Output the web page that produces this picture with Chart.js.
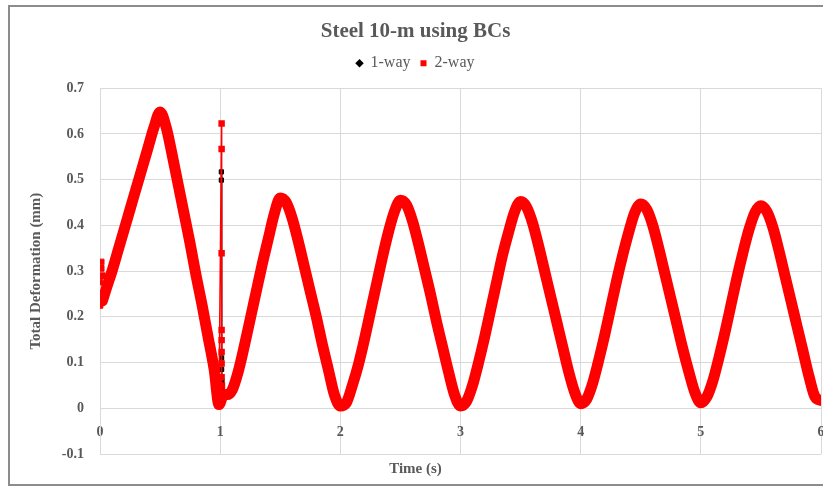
<!DOCTYPE html>
<html>
<head>
<meta charset="utf-8">
<script src="https://cdn.jsdelivr.net/npm/chart.js@4.4.1/dist/chart.umd.min.js"></script>
<style>
  html, body { margin: 0; padding: 0; background: #fff; overflow: hidden; }
  .frame {
    position: absolute; left: 8px; top: 5px;
    width: 826px; height: 477px;
    border: 2px solid #8c8c8c;
    background: #fff;
  }
</style>
</head>
<body>
<div class="frame"><canvas id="chart"></canvas></div>
<script>
// 2-way response: main band (time in s, total deformation in mm)
const time2 = [0.02, 0.05, 0.10, 0.15, 0.20, 0.25, 0.30, 0.35, 0.40, 0.45, 0.50, 0.55, 0.60, 0.65, 0.70, 0.75, 0.80, 0.85, 0.90, 0.95, 0.99,
  1.03, 1.06, 1.10, 1.15, 1.20, 1.25, 1.30, 1.35, 1.40, 1.45, 1.50, 1.55, 1.60, 1.65, 1.70, 1.75, 1.80, 1.85, 1.90, 1.95,
  2.00, 2.05, 2.10, 2.15, 2.20, 2.25, 2.30, 2.35, 2.40, 2.45, 2.50, 2.55, 2.60, 2.65, 2.70, 2.75, 2.80, 2.85, 2.90, 2.95,
  3.00, 3.05, 3.10, 3.15, 3.20, 3.25, 3.30, 3.35, 3.40, 3.45, 3.50, 3.55, 3.60, 3.65, 3.70, 3.75, 3.80, 3.85, 3.90, 3.95,
  4.00, 4.05, 4.10, 4.15, 4.20, 4.25, 4.30, 4.35, 4.40, 4.45, 4.50, 4.55, 4.60, 4.65, 4.70, 4.75, 4.80, 4.85, 4.90, 4.95,
  5.00, 5.05, 5.10, 5.15, 5.20, 5.25, 5.30, 5.35, 5.40, 5.45, 5.50, 5.55, 5.60, 5.65, 5.70, 5.75, 5.80, 5.85, 5.90, 5.95, 6.00];
const def2 = [0.235, 0.26, 0.30, 0.345, 0.39, 0.435, 0.48, 0.525, 0.57, 0.615, 0.648, 0.615, 0.555, 0.49, 0.425, 0.36, 0.29, 0.225, 0.155, 0.085, 0.008,
  0.03, 0.03, 0.04, 0.08, 0.135, 0.195, 0.255, 0.315, 0.37, 0.425, 0.46, 0.45, 0.415, 0.365, 0.31, 0.255, 0.20, 0.14, 0.085, 0.03,
  0.005, 0.012, 0.05, 0.095, 0.15, 0.21, 0.27, 0.33, 0.385, 0.43, 0.455, 0.445, 0.41, 0.36, 0.305, 0.25, 0.19, 0.135, 0.08, 0.03,
  0.005, 0.015, 0.05, 0.10, 0.155, 0.215, 0.275, 0.335, 0.385, 0.43, 0.452, 0.44, 0.405, 0.355, 0.30, 0.245, 0.19, 0.135, 0.08, 0.035,
  0.01, 0.02, 0.055, 0.105, 0.16, 0.22, 0.28, 0.335, 0.385, 0.428, 0.447, 0.435, 0.40, 0.35, 0.295, 0.24, 0.185, 0.13, 0.08, 0.035,
  0.012, 0.025, 0.06, 0.11, 0.165, 0.225, 0.285, 0.34, 0.39, 0.428, 0.443, 0.43, 0.395, 0.345, 0.29, 0.235, 0.18, 0.125, 0.07, 0.025, 0.017];

// 2-way start-up scatter near t = 0
const startT2 = [0.00, 0.01, 0.00, 0.01, 0.02];
const startV2 = [0.225, 0.32, 0.276, 0.306, 0.29];

// 2-way contact spike just after t = 1 s
const spikeT2 = [0.99, 1.012, 1.012, 1.012, 1.012, 1.012, 1.012, 1.012, 1.012, 1.015, 1.02, 1.03];
const spikeV2 = [0.008, 0.623, 0.567, 0.339, 0.171, 0.149, 0.123, 0.098, 0.068, 0.05, 0.03, 0.03];

// 1-way points that show from under the 2-way markers
const startT1 = [0.01, 0.01];
const startV1 = [0.243, 0.236];
const spikeT1 = [1.01, 1.01, 1.012, 1.012, 1.012, 1.015, 1.015, 1.015];
const spikeV1 = [0.517, 0.499, 0.15, 0.11, 0.085, 0.06, 0.04, 0.02];

const yTicks = [-0.1, 0, 0.1, 0.2, 0.3, 0.4, 0.5, 0.6, 0.7];

const pts = (xs, ys) => xs.map((x, i) => ({ x: x, y: ys[i] }));
const GREY = '#595959';
const SERIF = "'Liberation Serif', 'Times New Roman', serif";

const oneWay = pts(startT1, startV1).concat([{ x: 0.5, y: null }], pts(spikeT1, spikeV1));

// empty box between legend and plot, to push the plot down a little
const topSpacer = {
  id: 'topSpacer',
  beforeInit(chart) {
    Chart.layouts.addBox(chart, {
      position: 'top',
      weight: 500,
      fullSize: true,
      options: {},
      isHorizontal() { return true; },
      getPadding() { return { top: 0, left: 0, right: 0, bottom: 0 }; },
      update(maxWidth) { this.width = maxWidth; this.height = 7; },
      draw() {}
    });
  }
};

new Chart(document.getElementById('chart'), {
  type: 'scatter',
  plugins: [topSpacer],
  data: {
    datasets: [
      {
        label: '1-way',
        data: oneWay,
        showLine: true,
        spanGaps: false,
        borderColor: '#000',
        backgroundColor: '#000',
        borderWidth: 1,
        pointStyle: 'rect',
        pointRadius: 3,
        order: 4
      },
      {
        label: '2-way',
        data: pts(time2, def2),
        showLine: true,
        borderColor: '#ff0000',
        backgroundColor: '#ff0000',
        borderWidth: 11,
        borderCapStyle: 'round',
        borderJoinStyle: 'round',
        cubicInterpolationMode: 'monotone',
        pointRadius: 0,
        pointStyle: 'rect',
        order: 1
      },
      {
        label: '2-way start',
        data: pts(startT2, startV2),
        showLine: false,
        borderColor: '#ff0000',
        backgroundColor: '#ff0000',
        pointStyle: 'rect',
        pointRadius: 4,
        order: 2
      },
      {
        label: '2-way spike',
        data: pts(spikeT2, spikeV2),
        showLine: true,
        borderColor: '#ff0000',
        backgroundColor: '#ff0000',
        borderWidth: 1.5,
        pointStyle: 'rect',
        pointRadius: 3.5,
        order: 3
      }
    ]
  },
  options: {
    responsive: true,
    maintainAspectRatio: false,
    animation: false,
    layout: { padding: { top: 8, right: 15, bottom: 0, left: 0 } },
    plugins: {
      title: {
        display: true,
        text: 'Steel 10-m using BCs',
        color: GREY,
        font: { family: SERIF, size: 21, weight: 'bold' },
        padding: { top: 4, bottom: 1 }
      },
      subtitle: {
        display: true,
        position: 'bottom',
        text: 'Time (s)',
        color: GREY,
        font: { family: SERIF, size: 15, weight: 'bold' },
        padding: { top: 6, bottom: 6 }
      },
      legend: {
        position: 'top',
        labels: {
          usePointStyle: true,
          boxWidth: 6,
          boxHeight: 6,
          padding: 10,
          color: GREY,
          font: { family: SERIF, size: 16 },
          generateLabels: () => [
            { text: '1-way', fillStyle: '#000', strokeStyle: '#000', lineWidth: 0, pointStyle: 'rectRot', datasetIndex: 0, fontColor: GREY },
            { text: '2-way', fillStyle: '#ff0000', strokeStyle: '#ff0000', lineWidth: 0, pointStyle: 'rect', datasetIndex: 1, fontColor: GREY }
          ]
        }
      },
      tooltip: { enabled: false }
    },
    scales: {
      x: {
        type: 'linear',
        position: { y: 0 },
        min: 0,
        max: 6,
        afterFit: (scale) => { scale.paddingLeft = 0; scale.paddingRight = 0; },
        ticks: {
          stepSize: 1,
          padding: 16,
          color: GREY,
          font: { family: SERIF, size: 14, weight: 'bold' }
        },
        grid: { color: '#d9d9d9', drawTicks: false },
        border: { color: '#d9d9d9' }
      },
      y: {
        min: -0.1,
        max: 0.7,
        afterBuildTicks: (scale) => { scale.ticks = yTicks.map(v => ({ value: v })); },
        afterFit: (scale) => { scale.width = 90; },
        ticks: {
          padding: 16,
          color: GREY,
          font: { family: SERIF, size: 14, weight: 'bold' }
        },
        grid: { color: '#d9d9d9', drawTicks: false },
        border: { color: '#d9d9d9' },
        title: {
          display: true,
          text: 'Total Deformation (mm)',
          color: GREY,
          font: { family: SERIF, size: 15, weight: 'bold' },
          padding: { top: 17, bottom: 0 }
        }
      }
    }
  }
});
</script>
</body>
</html>
